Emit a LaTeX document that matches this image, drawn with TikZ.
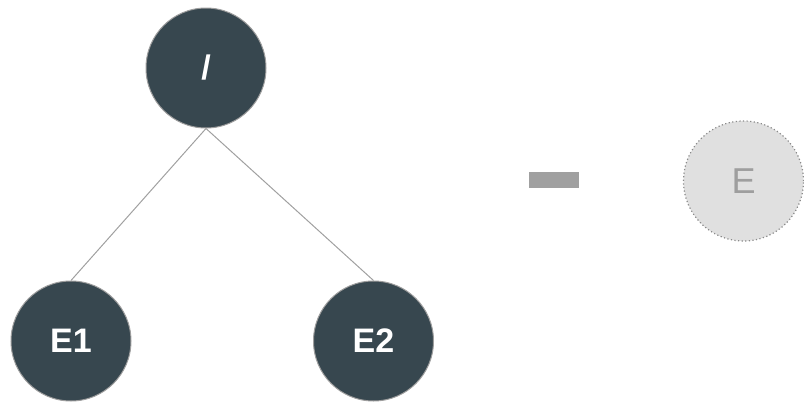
\documentclass[tikz,border=0pt]{standalone}
\usepackage{fontspec}
\setmainfont{Liberation Sans}
\definecolor{nodedark}{HTML}{37474F}
\definecolor{ringgray}{HTML}{9E9E9E}
\definecolor{linegray}{HTML}{A0A0A0}
\definecolor{ghostfill}{HTML}{E0E0E0}
\definecolor{ghosttext}{HTML}{9E9E9E}
\definecolor{dotgray}{HTML}{8A8A8A}
\begin{document}
\begin{tikzpicture}[x=1pt,y=-1pt,
  opnode/.style={circle, minimum size=120pt, inner sep=0pt, fill=nodedark,
    draw=ringgray, line width=1pt, text=white, font=\fontsize{34}{34}\selectfont\bfseries},
  ghostnode/.style={circle, minimum size=120pt, inner sep=0pt, fill=ghostfill,
    draw=dotgray, line width=1.2pt, dash pattern=on 1.2pt off 2.4pt,
    text=ghosttext, font=\fontsize{36}{36}\selectfont},
  edge/.style={draw=linegray, line width=1pt}]
\useasboundingbox (0,0) rectangle (804,402);
\node[opnode] (div) at (206,68) {/};
\node[opnode] (e1) at (71,341) {E1};
\node[opnode] (e2) at (373.5,341) {E2};
\draw[edge] (div.south) -- (e1.north);
\draw[edge] (div.south) -- (e2.north);
\node[fill=linegray, minimum width=50pt, minimum height=16pt, inner sep=0pt] (minus) at (554,180) {};
\node[ghostnode] (res) at (743.5,181) {E};
\end{tikzpicture}
\end{document}
